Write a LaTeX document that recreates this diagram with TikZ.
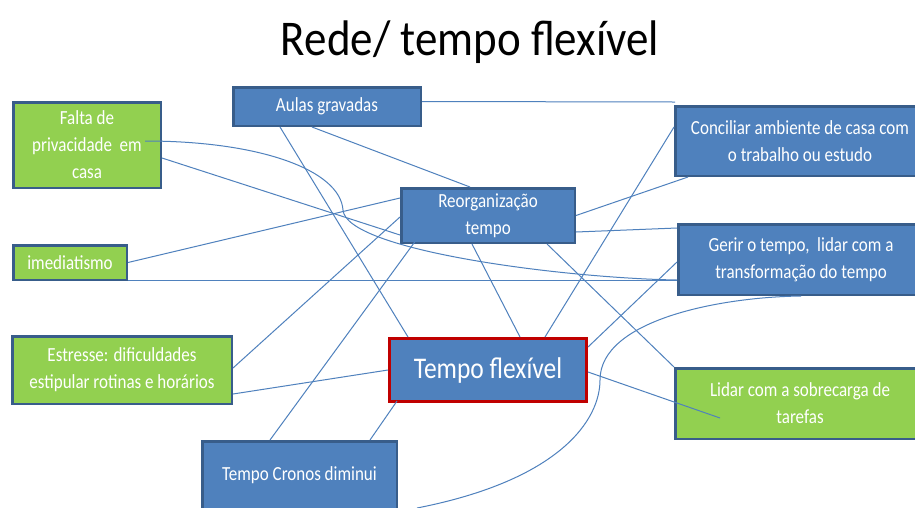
\documentclass[tikz,border=0pt]{standalone}
\usepackage{fontspec}
\setmainfont{Carlito}[FakeStretch=0.85]
\newfontfamily\titlefont{Carlito}[FakeStretch=0.9]
\usetikzlibrary{calc}
\definecolor{boxblue}{RGB}{79,129,189}
\definecolor{edgeblue}{RGB}{56,93,138}
\definecolor{boxgreen}{RGB}{146,208,80}
\definecolor{redge}{RGB}{192,0,0}
\definecolor{linkblue}{RGB}{79,129,189}
\begin{document}
\begin{tikzpicture}[x=1pt,y=-1pt,
  box/.style={draw=edgeblue, line width=2.5pt, fill=boxblue, text=white, inner sep=0pt, align=center, font=\fontsize{20}{27}\selectfont},
  gbox/.style={box, fill=boxgreen},
  link/.style={draw=linkblue, line width=1pt}]
\useasboundingbox (0,0) rectangle (915,507);
\clip (0,0) rectangle (915,507);
\fill[white] (0,0) rectangle (915,507);

\node[font=\titlefont\fontsize{50}{60}\selectfont, anchor=base] (title) at (470,55) {Rede/ tempo flexível};

\node[gbox, minimum width=147.5pt, minimum height=85.5pt] (falta) at (87,145) {Falta de\\privacidade~ em\\casa};
\node[box, minimum width=187.5pt, minimum height=38.5pt] (aulas) at (327,106.5) {Aulas gravadas};
\node[gbox, minimum width=113.5pt, minimum height=34.5pt] (imed) at (70,262.5) {imediatismo};
\node[box, minimum width=173.5pt, minimum height=54.5pt] (reorg) at (488,215.5) {Reorganização\\tempo};
\node[box, minimum width=249.5pt, minimum height=69.5pt] (conc) at (800,141) {Conciliar ambiente de casa com\\o trabalho ou estudo};
\node[box, minimum width=245.5pt, minimum height=70.5pt] (gerir) at (801,259.5) {Gerir o tempo,~ lidar com a\\transformação do tempo};
\node[gbox, minimum width=219.5pt, minimum height=67.5pt] (estr) at (122,370) {Estresse: dificuldades\\estipular rotinas e horários};
\node[box, draw=redge, line width=3pt, minimum width=197pt, minimum height=63pt, font=\fontsize{30}{36}\selectfont] (tf) at (488,370) {Tempo flexível};
\node[gbox, minimum width=249.5pt, minimum height=70.5pt] (lidar) at (800,403.5) {Lidar com a sobrecarga de\\tarefas};
\node[box, minimum width=194.5pt, minimum height=67.5pt] (cronos) at (299.5,475) {Tempo Cronos diminui};
\coordinate (cfree) at (417,508);

% connectors
\draw[link] ([yshift=5pt]aulas.east) -- ([xshift=1pt,yshift=3pt]conc.north west);
\draw[link] ([xshift=48pt]aulas.south west) -- ([xshift=20pt]tf.north west);
\draw[link] ([xshift=80pt]aulas.south west) -- ([xshift=70pt]reorg.north west);
\draw[link] ([xshift=-17pt,yshift=4pt]falta.east) .. controls (260,141) and (340,170) .. (343,210)
   .. controls (346,250) and (560,278) .. ([yshift=-20.5pt]gerir.west);
\draw[link] ([yshift=-13pt]falta.east) -- ([yshift=-19.5pt]reorg.west);
\draw[link] (imed.east) -- ([yshift=17.5pt]reorg.west);
\draw[link] ([yshift=-17.5pt]imed.east) -- ([yshift=-20.5pt]gerir.west);
\draw[link] ([yshift=-1.5pt]reorg.west) -- ([yshift=2pt]estr.east);
\draw[link] ([xshift=22pt,yshift=12pt]reorg.south west) -- ([xshift=69pt]cronos.north west);
\draw[link] ([xshift=72pt]reorg.south west) -- ([xshift=132pt]tf.north west);
\draw[link] ([xshift=-29pt]reorg.south east) -- (lidar.north west);
\draw[link] (reorg.east) -- ([xshift=14pt]conc.south west);
\draw[link] ([yshift=-16.5pt]reorg.east) -- ([yshift=31.5pt]gerir.west);
\draw[link] ([yshift=14pt]conc.west) -- ([xshift=157pt]tf.north west);
\draw[link] ([yshift=-2.5pt]gerir.west) -- ([yshift=-10pt]tf.north east);
\draw[link] ([yshift=-2pt]tf.east) -- ([xshift=46pt,yshift=-14.5pt]lidar.west);
\draw[link] ([yshift=-24pt]estr.east) -- (tf.west);
\draw[link] ([xshift=169pt]cronos.north west) -- ([xshift=9pt,yshift=2pt]tf.south west);
\draw[link] (cfree) .. controls (560,480) and (600,420) .. (600,380)
   .. controls (600,320) and (720,297) .. (gerir.south);
\end{tikzpicture}
\end{document}
